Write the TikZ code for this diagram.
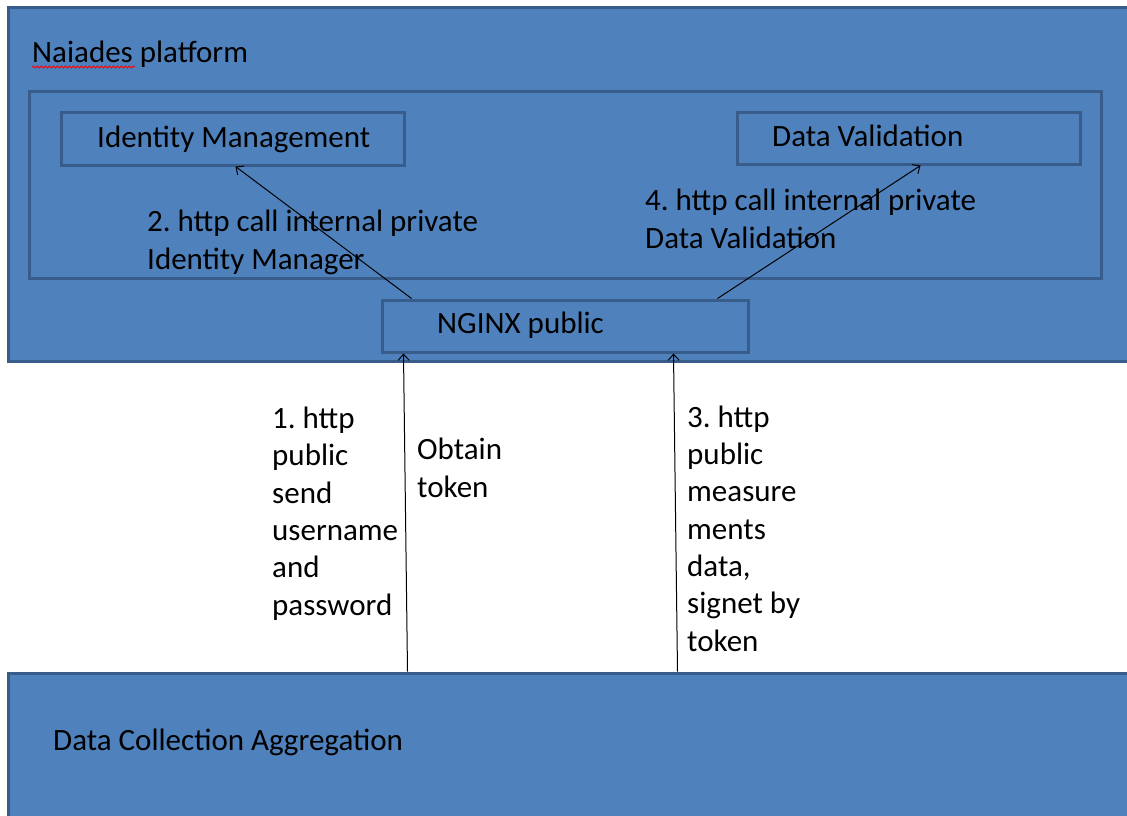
\documentclass[tikz,border=0pt]{standalone}
\usepackage{fontspec}
\setmainfont{Carlito}
\usetikzlibrary{arrows.meta,decorations.pathmorphing}
\definecolor{boxfill}{HTML}{4F81BD}
\definecolor{boxline}{HTML}{385D8A}
\frenchspacing
\begin{document}
\begin{tikzpicture}[x=1pt, y=-1pt,
    box/.style={draw=boxline, fill=boxfill, line width=3pt, inner sep=0pt},
    lbl/.style={anchor=base west, inner sep=0pt, align=left, font=\fontsize{31}{37.3}\selectfont},
    call/.style={-{Straight Barb[length=6pt,width=11pt]}, line width=1pt}]
  \clip (0,0) rectangle (1127,816);
  % platform with its inner parts
  \node[box, minimum width=1132pt, minimum height=353pt] (platform) at (574,184.5) {};
  \node[box, minimum width=1072pt, minimum height=187pt] (inner) at (565,184.5) {};
  \node[box, minimum width=343pt, minimum height=53pt] (idm) at (232.5,138.5) {};
  \node[box, minimum width=343pt, minimum height=52pt] (dval) at (908.5,138) {};
  \node[box, minimum width=366pt, minimum height=52pt] (nginx) at (565,326) {};
  \node[box, minimum width=1132pt, minimum height=157pt] (collect) at (574,751.5) {};

  \node[lbl] (title) at (32,63) {Naiades platform};
  \draw[red, line width=0.8pt, decorate, decoration={snake, segment length=4pt, amplitude=1pt}]
    ([yshift=-4pt]title.base west) -- ++(103,0);
  \node[lbl] (idmtext) at (97,147) {Identity Management};
  \node[lbl] (dvaltext) at (772,146) {Data Validation};
  \node[lbl] (nginxtext) at (437,333) {NGINX public};
  \node[lbl] (collecttext) at (53,750) {Data Collection Aggregation};

  % multi-line labels sit on their last baseline
  \node[lbl] (call2) at (147,269) {2. http call internal private\\Identity Manager};
  \node[lbl] (call4) at (645,248) {4. http call internal private\\Data Validation};
  \node[lbl] (call1) at (272,615) {1. http\\public\\send\\username\\and\\password};
  \node[lbl] (token) at (417,497) {Obtain\\token};
  \node[lbl] (call3) at (687,651) {3. http\\public\\measure\\ments\\data,\\signet by\\token};

  % connectors
  \draw[call] ([xshift=401pt]collect.north west) -- ([xshift=23pt]nginx.south west);
  \draw[call] ([xshift=671pt]collect.north west) -- ([xshift=293pt]nginx.south west);
  \draw[call] ([xshift=31pt]nginx.north west) -- ([xshift=176pt]idm.south west);
  \draw[call] ([xshift=-32pt]nginx.north east) -- ([xshift=185pt]dval.south west);
\end{tikzpicture}
\end{document}
